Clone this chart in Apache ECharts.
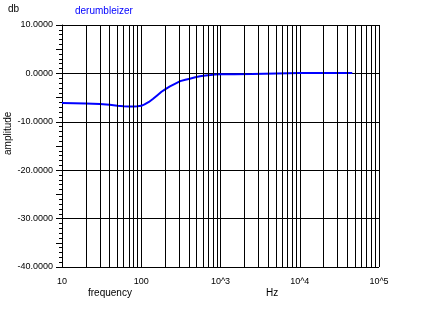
<!DOCTYPE html>
<html><head><meta charset="utf-8">
<script src="https://cdn.jsdelivr.net/npm/echarts@6/dist/echarts.min.js"></script>
<style>html,body{margin:0;padding:0;background:#fff}#c{width:445px;height:321px}</style>
</head><body><div id="c"></div>
<script>
var freq = [10, 20, 30, 40, 50, 60, 70, 80, 90, 100, 110, 125, 140, 160, 180, 200, 230, 270, 310, 360, 410, 480, 550, 650, 750, 850, 1000, 1500, 2500, 2600, 10000, 46000];
var amp  = [-6.1, -6.2, -6.3, -6.5, -6.7, -6.8, -6.85, -6.85, -6.8, -6.7, -6.4, -5.9, -5.3, -4.5, -3.8, -3.3, -2.7, -2.1, -1.6, -1.3, -1.1, -0.8, -0.6, -0.45, -0.35, -0.25, -0.2, -0.15, -0.12, 0.1, 0.1, 0.1];
var minorFreqs = [20,30,40,50,60,70,80,90,200,300,400,500,600,700,800,900,2000,3000,4000,5000,6000,7000,8000,9000,20000,30000,40000,50000,60000,70000,80000,90000];
var yTicks = [10, 0, -10, -20, -30, -40];
var titleText = 'derumbleizer';

var font = '"Liberation Sans", Arial, sans-serif';
var chart = echarts.init(document.getElementById('c'));
chart.setOption({
  animation: false,
  backgroundColor: '#fff',
  title: { text: titleText, left: 70, top: 1, textStyle: { color: '#0000ff', fontSize: 10, fontWeight: 'normal', fontFamily: font } },
  grid: { left: 62, top: 25, right: 66, bottom: 54, containLabel: false },
  xAxis: {
    type: 'log', logBase: 10, min: 10, max: 100000,
    axisLine: { lineStyle: { color: '#000', width: 1 } },
    axisTick: { show: false },
    splitLine: { show: true, lineStyle: { color: '#000', width: 1 } },
    axisLabel: { color: '#000', fontSize: 9, fontFamily: font, margin: 10,
      formatter: function (v) { var e = Math.round(Math.log10(v)); return e <= 2 ? String(Math.round(v)) : '10^' + e; } }
  },
  yAxis: [{
    type: 'value', min: -40, max: 10, interval: 10,
    axisLine: { show: true, lineStyle: { color: '#000', width: 1 } },
    axisTick: { show: true, inside: false, length: 6, lineStyle: { color: '#000' } },
    minorTick: { show: true, splitNumber: 10, length: 3, lineStyle: { color: '#000' } },
    splitLine: { show: true, lineStyle: { color: '#000', width: 1 } },
    axisLabel: { color: '#000', fontSize: 9, fontFamily: font, margin: 9,
      formatter: function (v) { return yTicks.indexOf(v) >= 0 ? v.toFixed(4) : ''; } }
  }, {
    type: 'value', min: -40, max: 10, interval: 5, position: 'left',
    axisLine: { show: false },
    axisTick: { show: true, length: 6, lineStyle: { color: '#000' } },
    splitLine: { show: false },
    axisLabel: { show: false }
  }],
  graphic: [
    { type: 'text', left: 8, top: 4, style: { text: 'db', fill: '#000', font: '10px ' + font } },
    { type: 'text', left: 88, top: 288, style: { text: 'frequency', fill: '#000', font: '10px ' + font } },
    { type: 'text', left: 266, top: 288, style: { text: 'Hz', fill: '#000', font: '10px ' + font } },
    { type: 'text', x: 3, y: 155, rotation: Math.PI / 2, style: { text: 'amplitude', fill: '#000', font: '10px ' + font } }
  ],
  series: [{
    type: 'line', z: 1, data: [[10, 0]], symbol: 'none', lineStyle: { opacity: 0 },
    markLine: { silent: true, symbol: ['none', 'none'], label: { show: false },
      lineStyle: { color: '#000', width: 1, type: 'solid' },
      data: minorFreqs.map(function (f) { return { xAxis: f }; }) }
  }, {
    type: 'line', z: 3, symbol: 'none', smooth: false,
    lineStyle: { color: '#0000ff', width: 2 },
    data: freq.map(function (f, i) { return [f, amp[i]]; })
  }]
});
</script></body></html>
